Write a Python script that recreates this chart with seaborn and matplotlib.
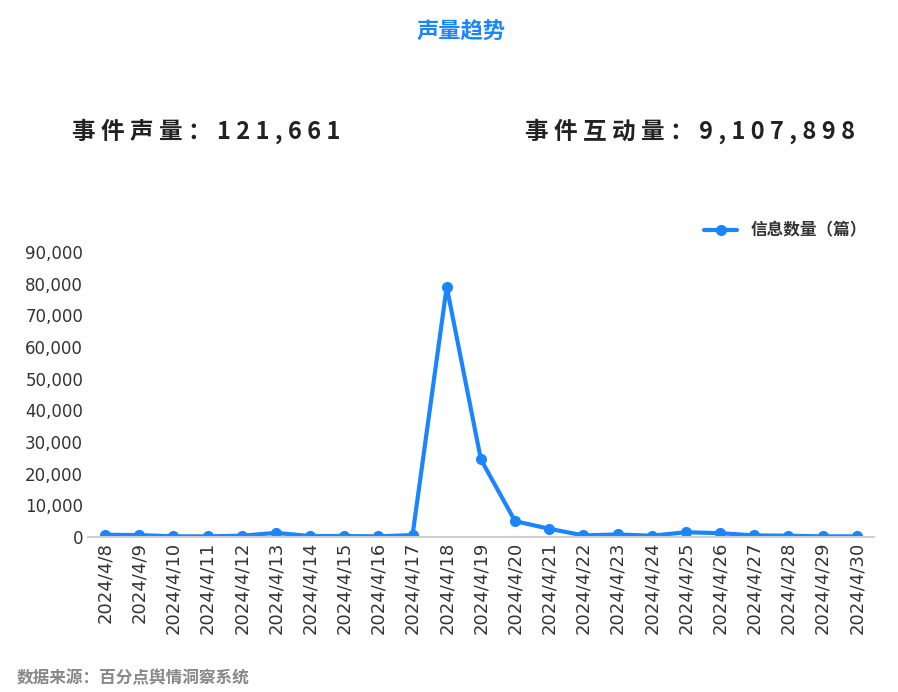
import matplotlib
matplotlib.use("Agg")
import matplotlib.pyplot as plt
import seaborn as sns
import pandas as pd
from matplotlib.ticker import FuncFormatter, MultipleLocator

dates = ["2024/4/8","2024/4/9","2024/4/10","2024/4/11","2024/4/12","2024/4/13","2024/4/14","2024/4/15",
         "2024/4/16","2024/4/17","2024/4/18","2024/4/19","2024/4/20","2024/4/21","2024/4/22","2024/4/23",
         "2024/4/24","2024/4/25","2024/4/26","2024/4/27","2024/4/28","2024/4/29","2024/4/30"]
counts = [700,600,200,200,400,1300,300,300,200,600,79000,24500,5000,2600,500,800,400,1500,1200,500,400,200,200]

sns.set_theme(style="white")
plt.rcParams['font.family'] = ['Noto Sans CJK SC', 'DejaVu Sans']

df = pd.DataFrame({"date": dates, "count": counts, "s": "信息数量（篇）"})
fig = plt.figure(figsize=(8.98, 6.92), dpi=100)
ax = fig.add_axes([0.098, 0.224, 0.875, 0.412])
sns.lineplot(data=df, x="date", y="count", hue="s", palette=["#1a85ff"], marker="o",
             markersize=8, linewidth=3, markeredgewidth=0, ax=ax, sort=False)
ax.set_xlim(-0.5, len(dates) - 0.5)
ax.set_ylim(0, 90000)
ax.yaxis.set_major_locator(MultipleLocator(10000))
ax.yaxis.set_major_formatter(FuncFormatter(lambda v, p: f"{int(v):,}"))
ax.set_xlabel(""); ax.set_ylabel("")
for s in ["top", "right", "left"]:
    ax.spines[s].set_visible(False)
ax.spines["bottom"].set_color("#d0d0d0")
ax.spines["bottom"].set_linewidth(1.5)
ax.tick_params(axis="x", rotation=90, labelsize=13, colors="#333333", length=0)
ax.tick_params(axis="y", labelsize=12, colors="#333333", length=0)
for t in ax.get_xticklabels() + ax.get_yticklabels():
    t.set_fontfamily("DejaVu Sans")
leg = ax.legend(loc="lower right", bbox_to_anchor=(1.0, 1.02), frameon=False, fontsize=12,
                handlelength=2, borderaxespad=0)
for t in leg.get_texts():
    t.set_fontweight("bold"); t.set_color("#333333")

fig.text(0.513, 0.953, "声量趋势", ha="center", va="center", fontsize=16, fontweight="bold", color="#1a85ff")
fig.text(0.08, 0.81, "事 件 声 量 ： 1 2 1 , 6 6 1", ha="left", va="center", fontsize=17, fontweight="bold",
         color="#222222")
fig.text(0.952, 0.81, "事 件 互 动 量 ： 9 , 1 0 7 , 8 9 8", ha="right", va="center", fontsize=17,
         fontweight="bold", color="#222222")
fig.text(0.018, 0.02, "数据来源：百分点舆情洞察系统", ha="left", va="center", fontsize=12,
         fontweight="bold", color="#888888")
fig.savefig("out.png", dpi=100)
